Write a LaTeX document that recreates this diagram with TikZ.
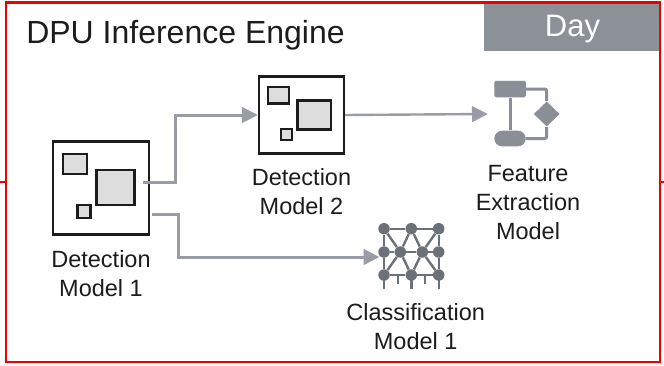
\documentclass[tikz,border=0pt]{standalone}
\usepackage{fontspec}
\setmainfont{Liberation Sans}
\usetikzlibrary{arrows.meta,shapes.geometric}

\definecolor{redframe}{HTML}{EE0000}
\definecolor{daygrey}{HTML}{8C9097}
\definecolor{flowgrey}{HTML}{989CA4}
\definecolor{icongrey}{HTML}{8A8E96}
\definecolor{netgrey}{HTML}{6B7079}
\definecolor{partgrey}{HTML}{DDDDDD}
\definecolor{inkblack}{HTML}{1C1C1C}

% model chip: name, centre, xscale, yscale
\newcommand{\modelchip}[4]{
    \begin{scope}[shift={(#2)},xscale=#3,yscale=#4,transform shape]
    \node[chipbox, minimum width=96pt, minimum height=93pt] (#1) at (0,0) {};
    \node[chippart, minimum width=38pt, minimum height=35pt] (#1big) at (14.5,0) {};
    \node[chippart, minimum width=24pt, minimum height=20pt] (#1top) at (-26,-24) {};
    \node[chippart, minimum width=13pt, minimum height=13pt] (#1low) at (-17,23.5) {};
    \end{scope}
}

\begin{document}
\begin{tikzpicture}[x=1pt,y=-1pt,>={Triangle[length=16pt,width=15.5pt]},semithick]

    \tikzstyle{chipbox}=[draw=inkblack,line width=2.6pt,fill=white,inner sep=0pt]
    \tikzstyle{chippart}=[draw=inkblack,line width=2.4pt,fill=partgrey,inner sep=0pt]
    \tikzstyle{modellabel}=[align=center,text=inkblack,font=\fontsize{23.5}{29}\selectfont]
    \tikzstyle{flow}=[->,draw=flowgrey,line width=3pt]
    \tikzstyle{frameline}=[draw=redframe,line width=2.6pt]
    \tikzstyle{iconline}=[draw=icongrey,line width=3pt,rounded corners=2pt]
    \tikzstyle{iconpart}=[fill=icongrey,inner sep=0pt]
    \tikzstyle{netline}=[draw=netgrey,line width=2.4pt]
    \tikzstyle{netdot}=[circle,fill=netgrey,inner sep=0pt,minimum size=11.5pt]

    \useasboundingbox (0,0) rectangle (664,365);

    \node[fill=daygrey,minimum width=177pt,minimum height=48pt,inner sep=0pt] (daybox) at (572.5,27) {};
    \node[text=white,font=\fontsize{31}{31}\selectfont] (daytext) at (572.5,29) {Day};
    \node[text=inkblack,font=\fontsize{32}{32}\selectfont,anchor=base west,inner sep=0pt] (title) at (26,43) {DPU Inference Engine};

    \draw[frameline] (6,2.5) rectangle (660,362);
    \draw[frameline] (0,182) -- (6,182) (660,182) -- (664,182);

    \modelchip{det1}{101,187.75}{1}{1}
    \modelchip{det2}{301.5,115}{.885}{.83}

    \node[modellabel, below of=det1, node distance=86pt] (det1label) {Detection\\Model 1};
    \node[modellabel, below of=det2, node distance=76.5pt] (det2label) {Detection\\Model 2};

    % feature extraction icon
    \node[iconpart,rounded corners=1.5pt,minimum width=31.5pt,minimum height=16.5pt] (featbox) at (510,89) {};
    \node[iconpart,rounded corners=7.8pt,minimum width=31.5pt,minimum height=15.6pt] (featpill) at (510,138.5) {};
    \node[iconpart,diamond,minimum width=26pt,minimum height=25pt] (featdiamond) at (546.7,114) {};
    \draw[iconline] (featbox) -- (featpill);
    \draw[iconline] (featbox.east) -| (featdiamond.north);
    \draw[iconline] (featpill.east) -| (featdiamond.south);
    \node[modellabel] (featlabel) at (528,203) {Feature\\Extraction\\Model};

    % classification icon
    \foreach \name/\xpos/\ypos in {a/384/228.7,b/411.3/228.7,c/438.7/228.7,
        d/384/252,e/400.3/252,f/422.3/252,g/438.7/252,
        h/384/275,i/411.3/275,j/438.7/275}
        \node[netdot] (net\name) at (\xpos,\ypos) {};
    \foreach \from/\to in {a/b,b/c,d/e,e/f,f/g,a/d,d/h,c/g,g/j,a/e,b/e,b/f,c/f,h/e,i/e,i/f,j/f,h/i,i/j}
        \draw[netline] (net\from) -- (net\to);
    \foreach \name in {h,i,j} {
        \coordinate (stem\name) at ([yshift=-13.5pt]net\name.center);
        \draw[netline] (net\name.center) -- (stem\name);
    }
    \coordinate (shorttopa) at (397.7,275);
    \coordinate (shortenda) at (397.7,284);
    \coordinate (shorttopb) at (425,275);
    \coordinate (shortendb) at (425,284);
    \draw[netline,line width=2pt] (shorttopa) -- (shortenda) (shorttopb) -- (shortendb);
    \node[modellabel] (classlabel) at (415.7,327) {Classification\\Model 1};

    \coordinate (det1up) at (143,182.5);
    \coordinate (det1down) at (152,214);
    \coordinate (featin) at (488,114);
    \coordinate (netin) at (379.5,257);

    \draw[flow] (det1up) -- ++(32,0) |- (det2.west);
    \draw[flow,line width=2.4pt] (det2.east) -- (featin);
    \draw[flow] (det1down) -- ++(26,0) |- (netin);

\end{tikzpicture}
\end{document}
